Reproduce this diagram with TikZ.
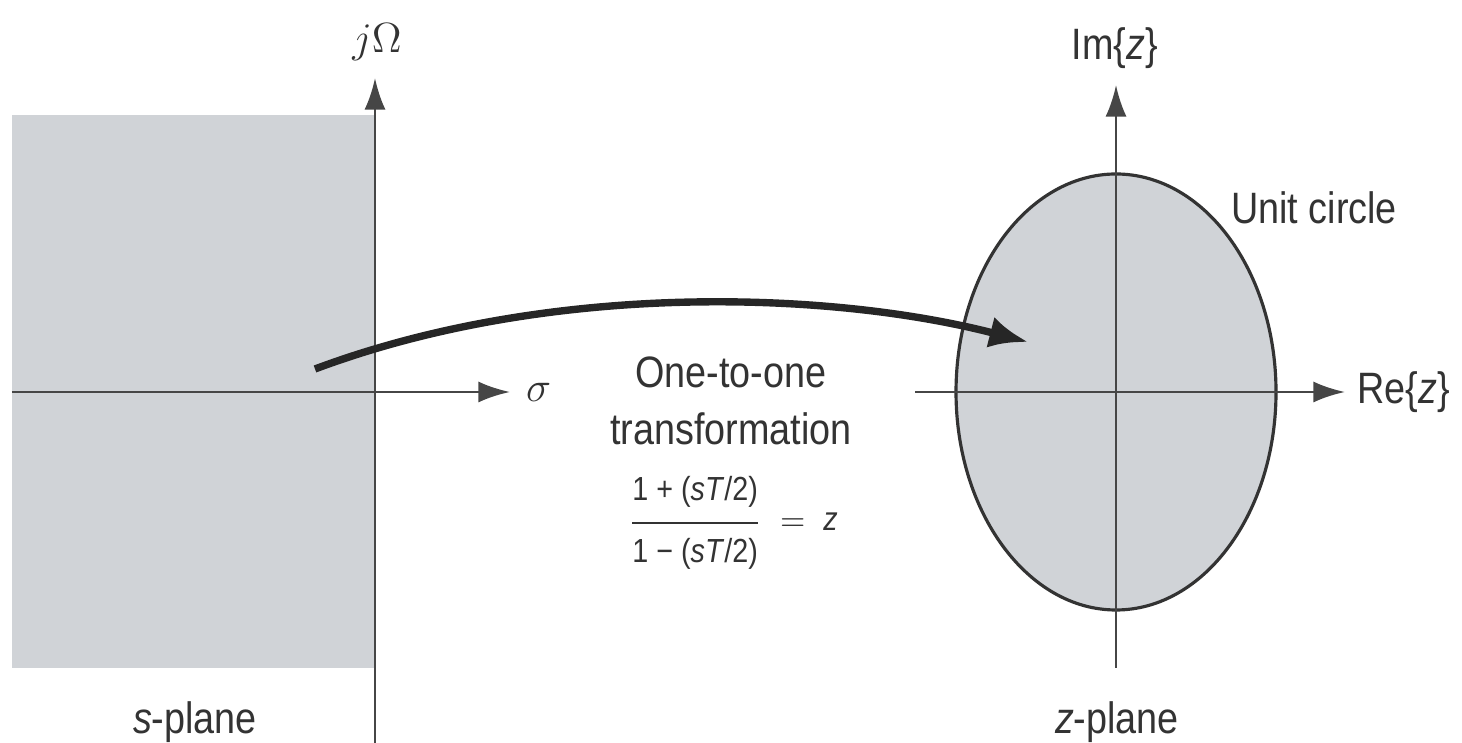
\documentclass[tikz,border=0pt]{standalone}
\usepackage{amsmath}
\usepackage{fontspec}
\setmainfont{Liberation Sans}[FakeStretch=0.86]
\usepackage{xcolor}
\definecolor{plgray}{RGB}{208,211,215}
\definecolor{plaxis}{RGB}{70,70,70}
\usetikzlibrary{arrows.meta,positioning,calc,shapes.geometric}

\begin{document}
\begin{tikzpicture}[
    axis/.style={draw=plaxis,line width=0.8pt,-{Latex[length=9pt,width=6pt]}},
    lbl/.style={font=\fontsize{12.5}{15}\selectfont,text=black!80,inner sep=1pt},
    maparrow/.style={line width=2.1pt,black!85,-{Latex[length=11pt,width=9pt]}}
  ]
  \useasboundingbox (0,0) rectangle (14.62,7.43);

  % s-plane: left half shaded
  \fill[plgray] (0.12,0.75) rectangle (3.75,6.28);
  \draw[axis] (0.12,3.51) -- (5.10,3.51) coordinate (sigtip);
  \draw[axis] (3.75,0) -- (3.75,6.65) coordinate (omtip);
  \node[lbl,anchor=west] (sigma) at ($(sigtip)+(0.12,0)$) {$\sigma$};
  \node[lbl] (jomega) at (3.77,7.01) {$j\Omega$};
  \node[lbl] (splane) at (1.95,0.21) {\textit{s}-plane};

  % z-plane: unit circle shaded
  \node[ellipse,draw=black!80,line width=0.9pt,fill=plgray,
        minimum width=3.2cm,minimum height=4.36cm,inner sep=0pt]
        (ucircle) at (11.16,3.51) {};
  \draw[axis] (9.15,3.51) -- (13.45,3.51) coordinate (retip);
  \draw[axis] (11.16,0.75) -- (11.16,6.58) coordinate (imtip);
  \node[lbl,anchor=west] (rez) at ($(retip)+(0.08,0)$) {Re\{\textit{z}\}};
  \node[lbl] (imz) at (11.15,6.95) {Im\{\textit{z}\}};
  \node[lbl] (ulabel) at (13.14,5.35) {Unit circle};
  \node[lbl] (zplane) at (11.17,0.21) {\textit{z}-plane};

  % mapping
  \coordinate (from) at (3.15,3.74);
  \coordinate (to) at (10.28,4.01);
  \draw[maparrow] (from) .. controls (5.5,4.62) and (8.3,4.52) .. (to);
  \node[lbl,align=center] (maptext) at (7.31,3.42)
        {One-to-one\\[1pt]transformation};
  \node[lbl,font=\fontsize{9.5}{11}\selectfont] (mapeq) at (7.33,2.2)
        {$\dfrac{\mbox{1 + (\textit{sT}/2)}\rule[-5pt]{0pt}{0pt}}
                {\rule{0pt}{10pt}\mbox{1 − (\textit{sT}/2)}}
          \;=\;\mbox{\textit{z}}$};
\end{tikzpicture}
\end{document}
